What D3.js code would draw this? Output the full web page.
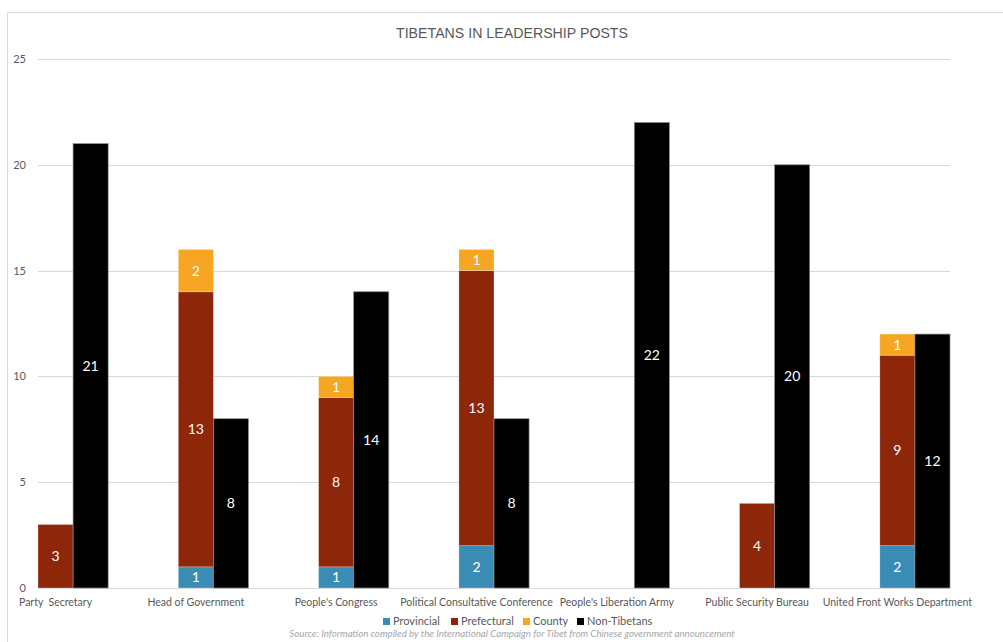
<!DOCTYPE html>
<html>
<head>
<meta charset="utf-8">
<script src="https://cdn.jsdelivr.net/npm/d3@7"></script>
<style>
  html, body { margin: 0; padding: 0; background: #fff; }
  text { font-family: Lato, "Liberation Sans", sans-serif; }
</style>
</head>
<body>
<div id="chart"></div>
<script>
// 数据
const categories = ["Party  Secretary", "Head of Government", "People's Congress",
  "Political Consultative Conference", "People's Liberation Army",
  "Public Security Bureau", "United Front Works Department"];
const provincial  = [0, 1, 1, 2, 0, 0, 2];
const prefectural = [3, 13, 8, 13, 0, 4, 9];
const county      = [0, 2, 1, 1, 0, 0, 1];
const nonTibetans = [21, 8, 14, 8, 22, 20, 12];
const yTicks = [0, 5, 10, 15, 20, 25];
const seriesNames = ["Provincial", "Prefectural", "County", "Non-Tibetans"];
const colors = ["#3a8cb4", "#8e2609", "#f6a623", "#000000"];

const width = 1003, height = 642;
const svg = d3.select("#chart").append("svg")
  .attr("width", width).attr("height", height);

// 外框
svg.append("path")
  .attr("d", `M7.5,${height} V12.5 H${width}`)
  .attr("fill", "none").attr("stroke", "#d9d9d9");

const x = d3.scaleBand().domain(categories).range([38, 950])
  .paddingInner(0.5).paddingOuter(0);
const sub = d3.scaleBand().domain(["tib", "non"]).range([0, x.bandwidth()]);
const y = d3.scaleLinear().domain([0, 25]).range([588, 59]);

// 网格线
svg.append("g").selectAll("line").data(yTicks).join("line")
  .attr("x1", 38).attr("x2", 950)
  .attr("y1", d => Math.round(y(d)) + 0.5).attr("y2", d => Math.round(y(d)) + 0.5)
  .attr("stroke", "#d9d9d9");

svg.append("g").selectAll("text").data(yTicks).join("text")
  .attr("x", 26).attr("y", d => y(d) + 4)
  .attr("text-anchor", "end")
  .style("font-size", "11px").style("fill", "#595959")
  .text(d => d);

// 堆叠数据
const table = categories.map((c, i) => ({
  cat: c, Provincial: provincial[i], Prefectural: prefectural[i], County: county[i]
}));
const stack = d3.stack().keys(seriesNames.slice(0, 3))(table);

const segs = [];
stack.forEach((layer, k) => {
  layer.forEach(d => {
    const v = d[1] - d[0];
    if (v > 0) segs.push({ cat: d.data.cat, y0: d[0], y1: d[1], v, color: colors[k] });
  });
});

const g = svg.append("g");
g.selectAll("rect.tib").data(segs).join("rect")
  .attr("class", "tib")
  .attr("x", d => x(d.cat) + sub("tib"))
  .attr("width", sub.bandwidth())
  .attr("y", d => y(d.y1))
  .attr("height", d => y(d.y0) - y(d.y1))
  .attr("fill", d => d.color)
  .attr("stroke", "rgba(255,255,255,0.35)").attr("stroke-width", 0.7);

g.selectAll("rect.non").data(categories).join("rect")
  .attr("class", "non")
  .attr("x", (d, i) => x(d) + sub("non"))
  .attr("width", sub.bandwidth())
  .attr("y", (d, i) => y(nonTibetans[i]))
  .attr("height", (d, i) => y(0) - y(nonTibetans[i]))
  .attr("fill", colors[3])
  .attr("stroke", "#8c8c8c").attr("stroke-width", 0.7);

// 数值标签
g.selectAll("text.tib").data(segs).join("text")
  .attr("x", d => x(d.cat) + sub("tib") + sub.bandwidth() / 2)
  .attr("y", d => y((d.y0 + d.y1) / 2) + 5)
  .attr("text-anchor", "middle")
  .style("font-size", "14px").style("fill", "#fff")
  .text(d => d.v);

g.selectAll("text.non").data(categories).join("text")
  .attr("x", d => x(d) + sub("non") + sub.bandwidth() / 2)
  .attr("y", (d, i) => y(nonTibetans[i] / 2) + 5)
  .attr("text-anchor", "middle")
  .style("font-size", "14px").style("fill", "#fff")
  .text((d, i) => nonTibetans[i]);

// 类别标签
svg.append("g").selectAll("text").data(categories).join("text")
  .attr("x", d => x(d) + sub("tib") + sub.bandwidth() / 2)
  .attr("y", 606)
  .attr("text-anchor", "middle")
  .style("font-size", "10.5px").style("fill", "#595959")
  .style("white-space", "pre")
  .text(d => d);

// 标题
svg.append("text")
  .attr("x", 512).attr("y", 38)
  .attr("text-anchor", "middle")
  .attr("textLength", 232).attr("lengthAdjust", "spacingAndGlyphs")
  .style("font-family", "'Liberation Sans', sans-serif")
  .style("font-size", "15px").style("fill", "#595959")
  .text("TIBETANS IN LEADERSHIP POSTS");

// 图例
const legendX = [383, 451, 523, 577];
const lg = svg.append("g").selectAll("g").data(seriesNames).join("g")
  .attr("transform", (d, i) => `translate(${legendX[i]},617)`);
lg.append("rect").attr("width", 7).attr("height", 7).attr("y", 1)
  .attr("fill", (d, i) => colors[i]);
lg.append("text").attr("x", 10).attr("y", 8)
  .style("font-size", "11px").style("fill", "#595959")
  .text(d => d);

// 来源
svg.append("text")
  .attr("x", 512).attr("y", 637)
  .attr("text-anchor", "middle")
  .style("font-size", "9.7px").style("font-style", "italic").style("fill", "#a6a6a6")
  .text("Source: Information compiled by the International Campaign for Tibet from Chinese government announcement");
</script>
</body>
</html>
